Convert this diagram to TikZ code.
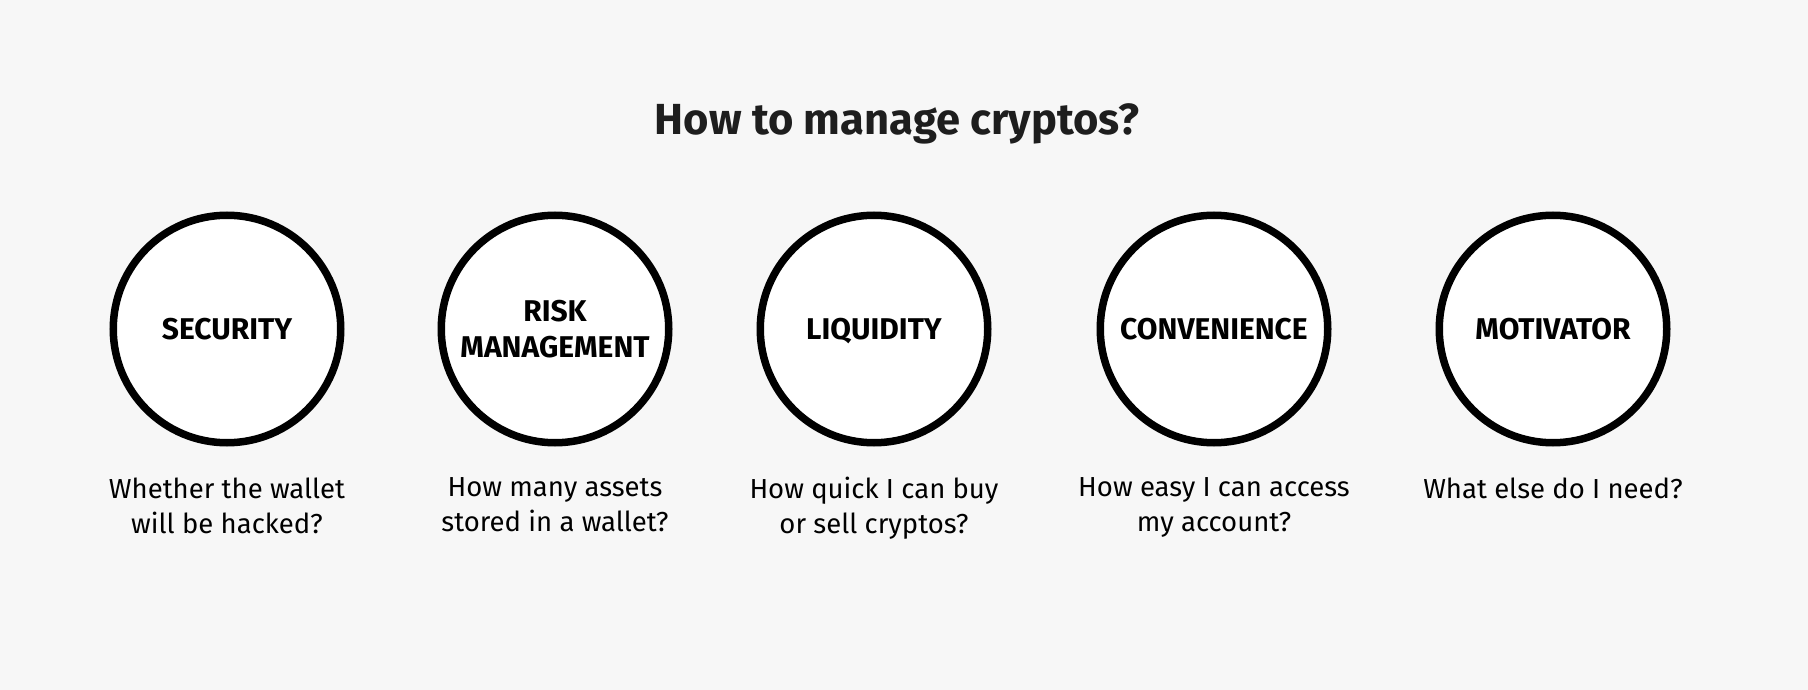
\documentclass[tikz,border=0pt]{standalone}
\usepackage{fontspec}
\setmainfont{Fira Sans}
\definecolor{bg}{HTML}{F7F7F7}
\definecolor{ink}{HTML}{1E1E1E}
\begin{document}
\begin{tikzpicture}[x=1pt,y=-1pt,
  topic/.style={circle,draw=black,line width=7.5pt,fill=white,minimum size=227.5pt,inner sep=0pt,align=center,
    font=\fontsize{30}{36}\selectfont\bfseries},
  oneline/.style={text height=21pt,text depth=0pt},
  desc/.style={align=center,text=black,font=\fontsize{27.5}{35}\selectfont},
  heading/.style={text=ink,font=\fontsize{43.5}{50}\selectfont\bfseries}]
\fill[bg] (0,0) rectangle (1808,690);
\useasboundingbox (0,0) rectangle (1808,690);
\node[heading] (title) at (897,124) {How to manage cryptos?};
\node[topic,oneline] (c1) at (227,329) {SECURITY};
\node[topic] (c2) at (555,329) {RISK\\MANAGEMENT};
\node[topic,oneline] (c3) at (874,329) {LIQUIDITY};
\node[topic,oneline] (c4) at (1214,329) {CONVENIENCE};
\node[topic,oneline] (c5) at (1553,329) {MOTIVATOR};
\node[desc,anchor=north] (d1) at (227,474) {Whether the wallet\\will be hacked?};
\node[desc,anchor=north] (d2) at (555,474) {How many assets\\stored in a wallet?};
\node[desc,anchor=north] (d3) at (874,474) {How quick I can buy\\or sell cryptos?};
\node[desc,anchor=north] (d4) at (1214,474) {How easy I can access\\my account?};
\node[desc,anchor=north] (d5) at (1553,474) {What else do I need?};
\end{tikzpicture}
\end{document}
